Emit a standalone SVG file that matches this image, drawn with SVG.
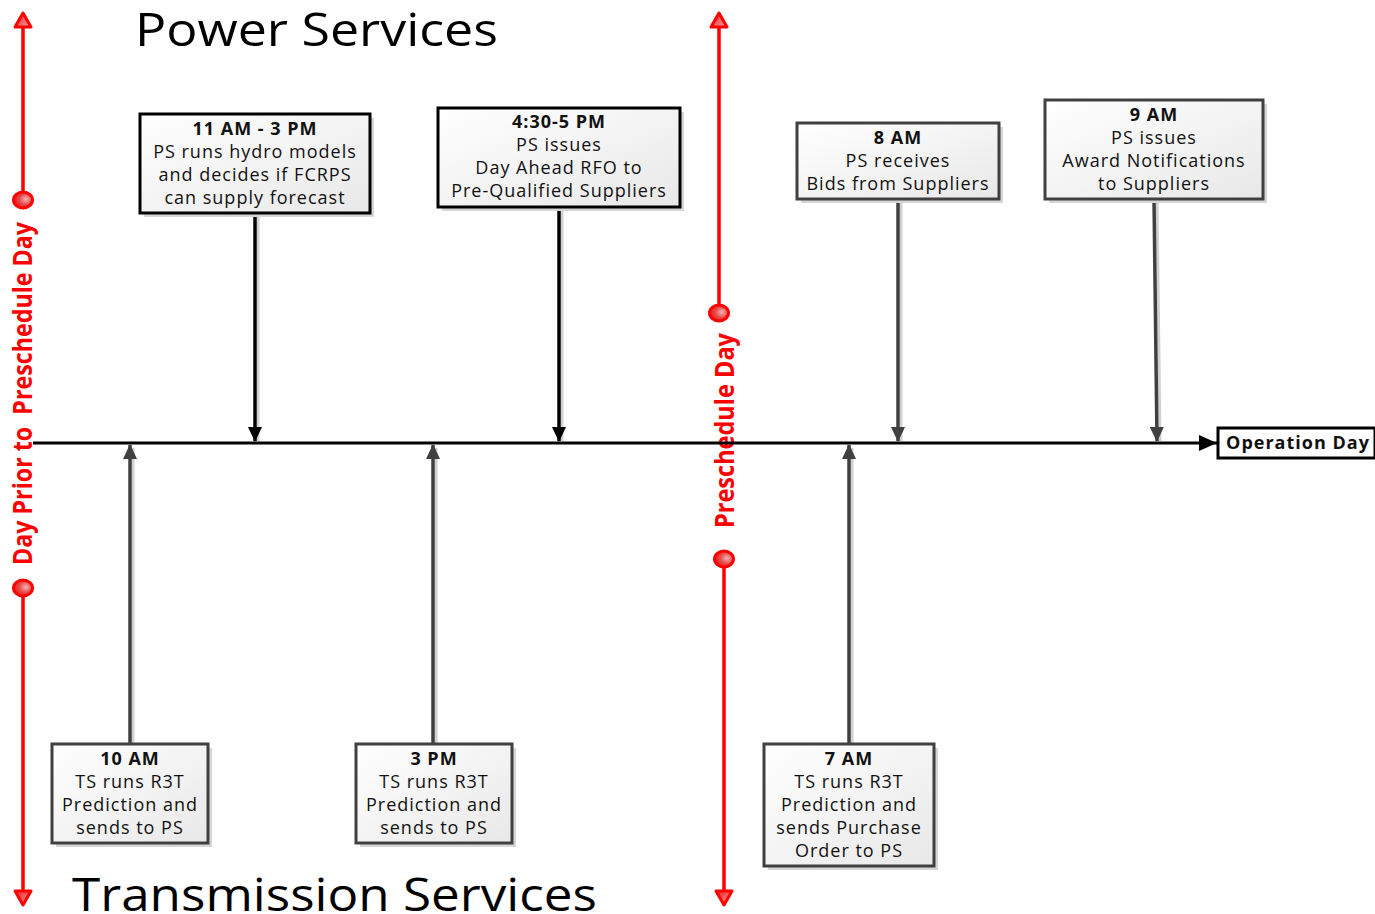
<svg xmlns="http://www.w3.org/2000/svg" width="1375" height="914" viewBox="0 0 1375 914">
<defs>
<linearGradient id="boxg" x1="0" y1="0" x2="1" y2="1">
<stop offset="0" stop-color="#ffffff"/>
<stop offset="1" stop-color="#e8e8e8"/>
</linearGradient>
<radialGradient id="dotg" cx="0.65" cy="0.45" r="0.7">
<stop offset="0" stop-color="#f4b4b4"/>
<stop offset="0.5" stop-color="#e84848"/>
<stop offset="1" stop-color="#ee1111"/>
</radialGradient>
<linearGradient id="triU" x1="0" y1="0" x2="1" y2="1">
<stop offset="0" stop-color="#ee2020"/>
<stop offset="1" stop-color="#f4a0a0"/>
</linearGradient>
<marker id="ahBlack" markerWidth="16" markerHeight="14" refX="14" refY="7" orient="auto" markerUnits="userSpaceOnUse">
<path d="M0,0 L15,7 L0,14 Z" fill="#000"/>
</marker>
<marker id="ahGray" markerWidth="16" markerHeight="14" refX="14" refY="7" orient="auto" markerUnits="userSpaceOnUse">
<path d="M0,0 L15,7 L0,14 Z" fill="#404040"/>
</marker>
<marker id="ahEnd" markerWidth="20" markerHeight="18" refX="18" refY="9" orient="auto" markerUnits="userSpaceOnUse">
<path d="M0,1 L18,9 L0,17 Z" fill="#000"/>
</marker>
</defs>
<style>
.title{font-family:"Open Sans","DejaVu Sans",sans-serif;font-size:45px;fill:#000}
.bt{font-family:"Open Sans","DejaVu Sans",sans-serif;font-size:18px;letter-spacing:1px;fill:#111;text-anchor:middle}
.bb{font-weight:bold}
.box{fill:url(#boxg);stroke-width:3}
.blk{stroke:#000}
.gry{stroke:#404040}
.shadow{fill:#d6d6d6}
.red{stroke:#ff0000;stroke-width:3.5;fill:none}
.dot{fill:url(#dotg);stroke:#ff0000;stroke-width:3}
.tri{fill:url(#triU);stroke:#ff0000;stroke-width:3;stroke-linejoin:round}
.rt{font-family:"Open Sans","DejaVu Sans",sans-serif;font-size:27px;font-weight:bold;fill:#ff0000}
.con{fill:none;stroke-width:3.5}
.cshadow{fill:none;stroke:#d0d0d0;stroke-width:3}
</style>

<text class="title" x="135" y="46" textLength="363" lengthAdjust="spacingAndGlyphs">Power Services</text>
<text class="title" x="72" y="911" font-size="44" textLength="525" lengthAdjust="spacingAndGlyphs">Transmission Services</text>

<!-- red period markers -->
<g id="left-period">
<line class="red" x1="23" y1="26" x2="23" y2="192"/>
<path class="tri" d="M23,13 L15,27 L31,27 Z"/>
<ellipse class="dot" cx="23" cy="200" rx="9.5" ry="8"/>
<text class="rt" transform="translate(32,565) rotate(-90)" textLength="343" lengthAdjust="spacingAndGlyphs" xml:space="preserve">Day Prior to  Preschedule Day</text>
<ellipse class="dot" cx="23" cy="588" rx="9.5" ry="8"/>
<line class="red" x1="23" y1="596" x2="23" y2="891"/>
<path class="tri" d="M23,905 L15,891 L31,891 Z"/>
</g>
<g id="mid-period">
<line class="red" x1="719" y1="26" x2="719" y2="305"/>
<path class="tri" d="M719,13 L711,27 L727,27 Z"/>
<ellipse class="dot" cx="719" cy="313" rx="9.5" ry="8"/>
<text class="rt" transform="translate(734,528) rotate(-90)" textLength="195" lengthAdjust="spacingAndGlyphs">Preschedule Day</text>
<ellipse class="dot" cx="724" cy="559" rx="9.5" ry="8"/>
<line class="red" x1="724" y1="567" x2="724" y2="891"/>
<path class="tri" d="M724,905 L716,891 L732,891 Z"/>
</g>

<!-- connectors -->
<g id="connectors">
<line x1="33" y1="443" x2="1217" y2="443" stroke="#000" stroke-width="3" marker-end="url(#ahEnd)"/>
<line class="cshadow" x1="258" y1="214" x2="258" y2="441"/>
<line class="con blk" x1="255" y1="213" x2="255" y2="441" marker-end="url(#ahBlack)"/>
<line class="cshadow" x1="562" y1="208" x2="562" y2="441"/>
<line class="con blk" x1="559" y1="207" x2="559" y2="441" marker-end="url(#ahBlack)"/>
<line class="cshadow" x1="901" y1="200" x2="901" y2="441"/>
<line class="con gry" x1="898" y1="199" x2="898" y2="441" marker-end="url(#ahGray)"/>
<line class="cshadow" x1="1157" y1="200" x2="1160" y2="441"/>
<line class="con gry" x1="1154" y1="199" x2="1157" y2="441" marker-end="url(#ahGray)"/>
<line class="cshadow" x1="133" y1="448" x2="133" y2="744"/>
<line class="con gry" x1="130" y1="744" x2="130" y2="445" marker-end="url(#ahGray)"/>
<line class="cshadow" x1="436" y1="448" x2="436" y2="744"/>
<line class="con gry" x1="433" y1="744" x2="433" y2="445" marker-end="url(#ahGray)"/>
<line class="cshadow" x1="852" y1="448" x2="852" y2="744"/>
<line class="con gry" x1="849" y1="744" x2="849" y2="445" marker-end="url(#ahGray)"/>
</g>

<g id="op-day">
<rect x="1218" y="428" width="157" height="30" fill="#fff" stroke="#000" stroke-width="3"/>
<text class="bt bb" x="1298" y="449">Operation Day</text>
</g>

<g id="n1">
<rect class="shadow" x="144" y="118" width="230" height="99"/>
<rect class="box blk" x="140" y="114" width="230" height="99"/>
<text class="bt bb" x="255" y="135">11 AM - 3 PM</text>
<text class="bt" x="255" y="158">PS runs hydro models</text>
<text class="bt" x="255" y="181">and decides if FCRPS</text>
<text class="bt" x="255" y="204">can supply forecast</text>
</g>
<g id="n2">
<rect class="shadow" x="442" y="112" width="242" height="99"/>
<rect class="box blk" x="438" y="108" width="242" height="99"/>
<text class="bt bb" x="559" y="128">4:30-5 PM</text>
<text class="bt" x="559" y="151">PS issues</text>
<text class="bt" x="559" y="174">Day Ahead RFO to</text>
<text class="bt" x="559" y="197">Pre-Qualified Suppliers</text>
</g>
<g id="n3">
<rect class="shadow" x="801" y="127" width="202" height="76"/>
<rect class="box gry" x="797" y="123" width="202" height="76"/>
<text class="bt bb" x="898" y="144">8 AM</text>
<text class="bt" x="898" y="167">PS receives</text>
<text class="bt" x="898" y="190">Bids from Suppliers</text>
</g>
<g id="n4">
<rect class="shadow" x="1049" y="104" width="218" height="99"/>
<rect class="box gry" x="1045" y="100" width="218" height="99"/>
<text class="bt bb" x="1154" y="121">9 AM</text>
<text class="bt" x="1154" y="144">PS issues</text>
<text class="bt" x="1154" y="167">Award Notifications</text>
<text class="bt" x="1154" y="190">to Suppliers</text>
</g>
<g id="n5">
<rect class="shadow" x="56" y="748" width="156" height="99"/>
<rect class="box gry" x="52" y="744" width="156" height="99"/>
<text class="bt bb" x="130" y="765">10 AM</text>
<text class="bt" x="130" y="788">TS runs R3T</text>
<text class="bt" x="130" y="811">Prediction and</text>
<text class="bt" x="130" y="834">sends to PS</text>
</g>
<g id="n6">
<rect class="shadow" x="360" y="748" width="156" height="99"/>
<rect class="box gry" x="356" y="744" width="156" height="99"/>
<text class="bt bb" x="434" y="765">3 PM</text>
<text class="bt" x="434" y="788">TS runs R3T</text>
<text class="bt" x="434" y="811">Prediction and</text>
<text class="bt" x="434" y="834">sends to PS</text>
</g>
<g id="n7">
<rect class="shadow" x="768" y="748" width="170" height="122"/>
<rect class="box gry" x="764" y="744" width="170" height="122"/>
<text class="bt bb" x="849" y="765">7 AM</text>
<text class="bt" x="849" y="788">TS runs R3T</text>
<text class="bt" x="849" y="811">Prediction and</text>
<text class="bt" x="849" y="834">sends Purchase</text>
<text class="bt" x="849" y="857">Order to PS</text>
</g>
</svg>
